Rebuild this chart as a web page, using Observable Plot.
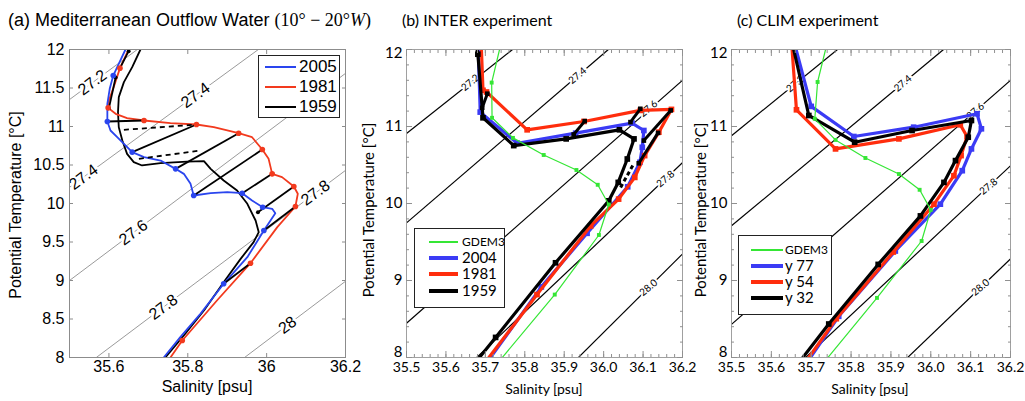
<!DOCTYPE html>
<html>
<head>
<meta charset="utf-8">
<script src="https://cdn.jsdelivr.net/npm/d3@7"></script>
<script src="https://cdn.jsdelivr.net/npm/@observablehq/plot@0.6"></script>
<style>
html,body{margin:0;padding:0;background:#fff;}
#wrap{position:relative;width:1025px;height:401px;overflow:hidden;background:#fff;}
#wrap svg{position:absolute;top:0;overflow:visible;}
.t{position:absolute;white-space:nowrap;color:#000;line-height:1;}
.helv{font-family:"Liberation Sans",Arial,Helvetica,sans-serif;}
.myr{font-family:Lato,"Open Sans",sans-serif;}
.math{font-family:"Liberation Serif","DejaVu Serif",serif;}
.rot{transform:translate(-50%,-50%) rotate(-90deg);}
.ctr{transform:translate(-50%,-50%);}
.leg{position:absolute;background:#fff;border:1px solid #222;box-sizing:border-box;}
.sw{position:absolute;}
.lt{position:absolute;transform:translateY(-50%);white-space:nowrap;line-height:0.9;}
</style>
</head>
<body>
<div id="wrap"></div>
<script>
// ---------- common ----------
const salDomain = [35.5, 36.2];
const tempDomain = [8, 12];

// ---------- panel (a) data ----------
const aXTicks = [35.6, 35.8, 36, 36.2];
const aYTicks = [8, 8.5, 9, 9.5, 10, 10.5, 11, 11.5, 12];
const aIsoStart = [[35.5, 11.35], [35.5, 10.21], [35.5, 9.0], [35.568, 8.0], [35.944, 8.0]];
const aIsoEnd = [[35.672, 12], [35.979, 12], [36.2, 11.69], [36.2, 10.43], [36.2, 8.99]];
const aIsoLabelText = ["27.2", "27.4", "27.4", "27.6", "27.8", "27.8", "28"];
const aIsoLabelPos = [[35.558, 11.571], [35.5355, 10.343], [35.8196, 11.404], [35.662, 9.623], [35.738, 8.654], [36.124, 10.138], [36.053, 8.42]];
const aSeriesNames = ["2005", "1981", "1959"];
const a2005 = [[35.642,12.0],[35.621,11.771],[35.611,11.662],[35.602,11.489],[35.596,11.294],[35.596,11.065],[35.604,10.948],[35.621,10.861],[35.659,10.667],[35.689,10.602],[35.731,10.558],[35.769,10.450],[35.790,10.385],[35.807,10.255],[35.815,10.104],[35.858,10.134],[35.900,10.147],[35.938,10.134],[35.963,10.039],[35.990,9.952],[36.014,9.931],[36.022,9.874],[35.993,9.649],[35.951,9.303],[35.891,8.957],[35.832,8.567],[35.781,8.264],[35.739,8.0]];
const a2005Dots = [[35.611,11.662],[35.596,11.065],[35.659,10.667],[35.769,10.45],[35.815,10.104],[35.938,10.134],[35.99,9.952],[35.993,9.649],[35.891,8.957]];
const a1981 = [[35.650,12.0],[35.628,11.758],[35.612,11.511],[35.600,11.338],[35.598,11.242],[35.617,11.165],[35.646,11.108],[35.689,11.078],[35.756,11.043],[35.822,11.026],[35.866,10.991],[35.929,10.913],[35.963,10.861],[35.989,10.701],[36.005,10.580],[36.014,10.385],[36.039,10.342],[36.069,10.221],[36.079,10.126],[36.073,9.961],[36.027,9.693],[35.959,9.225],[35.874,8.740],[35.786,8.221],[35.756,8.0]];
const a1981Dots = [[35.628,11.758],[35.598,11.242],[35.689,11.078],[35.822,11.026],[35.929,10.913],[35.989,10.701],[36.014,10.385],[36.069,10.221],[36.073,9.961],[35.959,9.225],[35.786,8.221]];
const a1959 = [[35.680,12.0],[35.659,11.771],[35.638,11.576],[35.625,11.381],[35.623,11.186],[35.625,10.991],[35.634,10.818],[35.646,10.645],[35.663,10.537],[35.684,10.494],[35.731,10.524],[35.798,10.545],[35.841,10.550],[35.858,10.450],[35.891,10.299],[35.925,10.169],[35.951,9.996],[35.972,9.779],[35.980,9.628],[35.967,9.498],[35.934,9.281],[35.891,8.978],[35.841,8.610],[35.790,8.286],[35.743,8.0]];
const aSegFrom = [[35.600,11.238],[35.628,11.758],[35.596,11.065],[35.659,10.667],[35.769,10.450],[35.815,10.104],[35.938,10.134],[35.978,9.887],[35.993,9.649],[35.891,8.957]];
const aSegTo = [[35.617,11.636],[35.650,11.978],[35.689,11.078],[35.822,11.026],[35.929,10.913],[35.989,10.701],[36.014,10.385],[36.069,10.221],[36.073,9.961],[35.959,9.225]];
const aDashFrom = [[35.638,10.957],[35.676,10.580]];
const aDashTo = [[35.815,11.022],[35.832,10.688]];

// ---------- panel (b) data ----------
const bcXTicks = [35.5, 35.6, 35.7, 35.8, 35.9, 36.0, 36.1, 36.2];
const bcYTicksMid = [9, 10, 11];
const bcYTickTop = [12];
const bcYTickBottom = [8];
const bIsoStart = [[35.5, 10.909], [35.5, 9.748], [35.5, 8.444], [35.678, 8.0], [35.936, 8.0]];
const bIsoEnd = [[35.769, 12], [36.012, 12], [36.2, 11.6], [36.2, 10.53], [36.2, 9.344]];
const bcIsoLabelText = ["27.2", "27.4", "27.6", "27.8", "28.0"];
const bIsoLabelPos = [[35.662, 11.57], [35.934, 11.66], [36.114, 11.23], [36.157, 10.32], [36.114, 8.906]];
const bSeriesNames = ["GDEM3", "2004", "1981", "1959"];
const bGdem3 = [[35.736,12.0],[35.716,11.57],[35.717,11.113],[35.770,10.852],[35.848,10.630],[35.931,10.435],[35.985,10.243],[36.013,9.987],[35.988,9.591],[35.876,8.817],[35.743,8.0]];
const b2004 = [[35.682,12.0],[35.687,11.187],[35.781,10.783],[35.929,10.913],[36.072,11.043],[36.102,10.948],[36.098,10.730],[36.092,10.535],[36.061,10.217],[35.958,9.613],[35.842,8.917],[35.713,8.0]];
const b1981 = [[35.690,12.0],[35.694,11.470],[35.703,11.448],[35.806,10.957],[35.950,11.065],[36.093,11.209],[36.172,11.222],[36.140,10.926],[36.104,10.622],[36.079,10.339],[36.038,10.057],[35.967,9.709],[35.831,8.817],[35.709,8.0]];
const b1959 = [[35.679,12.0],[35.681,11.939],[35.694,11.113],[35.772,10.752],[35.905,10.839],[36.040,10.957],[36.077,10.839],[36.060,10.578],[36.037,10.274],[36.013,10.035],[35.878,9.230],[35.726,8.261],[35.685,8.0]];
const bSegFrom = [[35.692,11.243],[35.924,10.896],[36.068,11.057],[36.102,10.817],[36.089,10.522]];
const bSegTo = [[35.705,11.426],[35.952,11.070],[36.093,11.230],[36.170,11.209],[36.138,10.917]];
const bDashFrom = [[36.043,10.209]];
const bDashTo = [[36.077,10.522]];

// ---------- panel (c) data ----------
const cIsoStart = [[35.5, 10.88], [35.5, 9.71], [35.5, 8.43], [35.686, 8.0], [35.942, 8.0]];
const cIsoEnd = [[35.766, 12], [36.032, 12], [36.2, 11.6], [36.2, 10.49], [36.2, 9.28]];
const cIsoLabelPos = [[35.66, 11.554], [35.93, 11.56], [36.112, 11.20], [36.145, 10.22], [36.125, 8.91]];
const cSeriesNames = ["GDEM3", "y 77", "y 54", "y 32"];
const cGdem3 = [[35.736,12.0],[35.716,11.578],[35.709,11.1],[35.761,10.826],[35.836,10.591],[35.920,10.383],[35.972,10.178],[36.0,9.917],[35.977,9.513],[35.865,8.774],[35.742,8.0]];
const cY77 = [[35.662,12.0],[35.700,11.261],[35.807,10.870],[35.957,10.991],[36.116,11.165],[36.127,10.970],[36.102,10.709],[36.079,10.426],[36.024,9.991],[35.911,9.383],[35.769,8.535],[35.698,8.0]];
const cY54 = [[35.652,12.0],[35.663,11.217],[35.761,10.709],[35.920,10.839],[36.074,11.022],[36.091,10.870],[36.076,10.622],[36.058,10.361],[36.008,9.991],[35.906,9.370],[35.763,8.504],[35.694,8.0]];
const cY32 = [[35.656,12.0],[35.694,11.143],[35.809,10.796],[35.953,10.948],[36.102,11.078],[36.094,10.861],[36.062,10.557],[36.033,10.274],[35.974,9.839],[35.868,9.209],[35.744,8.435],[35.679,8.0]];

// ---------- helpers ----------
const HELV = '"Liberation Sans", Arial, Helvetica, sans-serif';
const MYR = 'Lato, "Open Sans", sans-serif';
const BLUE_A = "#2a45ee", RED_A = "#f23a1e";
const BLUE = "#3b3bf5", RED = "#ff2d0d", GREEN = "#35e635";
const pts = arr => arr.map(([S, T]) => ({S, T}));
const links = (a, b) => a.map((p, i) => ({x1: p[0], y1: p[1], x2: b[i][0], y2: b[i][1]}));
const labels = (txt, pos) => txt.map((t, i) => ({t, S: pos[i][0], T: pos[i][1]}));
const linkOpts = {x1: "x1", y1: "y1", x2: "x2", y2: "y2"};
const inner = (arr) => arr.slice(1, -1);
const plain = d => String(d);

function tickAxes(xt, yt, len, color) {
  return [
    Plot.axisX(xt, {anchor: "bottom", tickSize: len, inset: len, fill: "none", stroke: color, label: null}),
    Plot.axisX(xt, {anchor: "top", tickSize: len, inset: len, fill: "none", stroke: color, label: null}),
    Plot.axisY(yt, {anchor: "left", tickSize: len, inset: len, fill: "none", stroke: color, label: null}),
    Plot.axisY(yt, {anchor: "right", tickSize: len, inset: len, fill: "none", stroke: color, label: null})
  ];
}

const wrap = document.getElementById("wrap");
function place(svg, left) { svg.style.left = left + "px"; wrap.appendChild(svg); }
function addText(html, cls, style) {
  const d = document.createElement("div");
  d.className = "t " + cls;
  d.innerHTML = html;
  Object.assign(d.style, style);
  wrap.appendChild(d);
}
function legend(box, rows) {
  const L = document.createElement("div");
  L.className = "leg";
  Object.assign(L.style, {left: box.left + "px", top: box.top + "px", width: box.w + "px", height: box.h + "px"});
  rows.forEach(r => {
    const s = document.createElement("div");
    s.className = "sw";
    Object.assign(s.style, {left: box.lx0 + "px", width: (box.lx1 - box.lx0) + "px", top: (r.y - r.lw / 2) + "px", height: r.lw + "px", background: r.color});
    L.appendChild(s);
    const t = document.createElement("div");
    t.className = "lt";
    t.textContent = r.label;
    Object.assign(t.style, {left: box.tx + "px", top: r.y + "px", fontSize: r.size + "px", fontFamily: box.font});
    L.appendChild(t);
  });
  wrap.appendChild(L);
}

// ---------- panel (a) ----------
const plotA = Plot.plot({
  width: 350, height: 401,
  marginLeft: 69, marginRight: 5, marginTop: 49, marginBottom: 44,
  x: {domain: salDomain}, y: {domain: tempDomain},
  style: {fontFamily: HELV, fontSize: "16px", background: "transparent", color: "#000", overflow: "visible"},
  marks: [
    Plot.link(links(aIsoStart, aIsoEnd), {...linkOpts, stroke: "#808080", strokeWidth: 0.8, clip: true}),
    Plot.text(labels(aIsoLabelText, aIsoLabelPos), {x: "S", y: "T", text: "t", rotate: -36.6, fontSize: 16, fill: "#000", stroke: "#fff", strokeWidth: 5, paintOrder: "stroke"}),
    Plot.line(pts(a1959), {x: "S", y: "T", stroke: "#000", strokeWidth: 1.8, clip: true}),
    Plot.line(pts(a1981), {x: "S", y: "T", stroke: RED_A, strokeWidth: 1.8, clip: true}),
    Plot.line(pts(a2005), {x: "S", y: "T", stroke: BLUE_A, strokeWidth: 1.8, clip: true}),
    Plot.link(links(aSegFrom, aSegTo), {...linkOpts, stroke: "#000", strokeWidth: 1.8}),
    Plot.link(links(aDashFrom, aDashTo), {...linkOpts, stroke: "#000", strokeWidth: 1.8, strokeDasharray: "5,4"}),
    Plot.dot(pts(aSegFrom.concat(aSegTo)), {x: "S", y: "T", r: 2, fill: "#000"}),
    Plot.dot(pts(a1981Dots), {x: "S", y: "T", r: 2.8, fill: RED_A}),
    Plot.dot(pts(a2005Dots), {x: "S", y: "T", r: 2.8, fill: BLUE_A}),
    Plot.frame({stroke: "#8c8c8c"}),
    ...tickAxes(aXTicks, aYTicks, 4, "#8c8c8c"),
    Plot.axisX(aXTicks, {anchor: "bottom", tickSize: 0, tickPadding: 3, fontSize: 16, tickFormat: plain, label: null}),
    Plot.axisY(aYTicks, {anchor: "left", tickSize: 0, tickPadding: 5, fontSize: 16, tickFormat: plain, label: null})
  ]
});
place(plotA, 0);

// ---------- panels (b), (c) ----------
const xMinor = d3.range(0, 36).map(i => +(35.5 + i * 0.02).toFixed(2));
const yMinor = d3.range(0, 21).map(i => +(8 + i * 0.2).toFixed(1));
const bcYTicks = bcYTickBottom.concat(bcYTicksMid, bcYTickTop);

function panelBC({width, ml, mr, isoStart, isoEnd, labelPos, thick, green, segFrom, segTo, dashFrom, dashTo}) {
  const marks = [
    Plot.link(links(isoStart, isoEnd), {...linkOpts, stroke: "#000", strokeWidth: 1.2, clip: true}),
    Plot.text(labels(bcIsoLabelText, labelPos), {x: "S", y: "T", text: "t", rotate: -40, fontSize: 10, fontFamily: MYR, fill: "#000", stroke: "#fff", strokeWidth: 4, paintOrder: "stroke"})
  ];
  thick.forEach(([arr, color]) => {
    marks.push(Plot.line(pts(arr), {x: "S", y: "T", stroke: color, strokeWidth: 3.2, strokeLinejoin: "miter", clip: true}));
    marks.push(Plot.dot(pts(inner(arr)), {x: "S", y: "T", symbol: "square", r: 3.2, fill: color}));
  });
  if (segFrom) {
    marks.push(Plot.link(links(segFrom, segTo), {...linkOpts, stroke: "#000", strokeWidth: 3}));
    marks.push(Plot.link(links(dashFrom, dashTo), {...linkOpts, stroke: "#000", strokeWidth: 3, strokeDasharray: "4,3"}));
    marks.push(Plot.dot(pts(segFrom.concat(segTo)), {x: "S", y: "T", symbol: "square", r: 2.6, fill: "#000"}));
  }
  marks.push(Plot.line(pts(green), {x: "S", y: "T", stroke: GREEN, strokeWidth: 1.2, clip: true}));
  marks.push(Plot.dot(pts(inner(green)), {x: "S", y: "T", symbol: "square", r: 2.2, fill: GREEN}));
  marks.push(Plot.frame({stroke: "#a0a0a0"}));
  marks.push(...tickAxes(xMinor, yMinor, 3, "#909090"));
  marks.push(...tickAxes(bcXTicks, bcYTicks, 6, "#909090"));
  marks.push(Plot.axisX(bcXTicks, {anchor: "bottom", tickSize: 0, tickPadding: 5, fontSize: 14, tickFormat: d3.format(".1f"), label: null}));
  marks.push(Plot.axisY(bcYTicksMid, {anchor: "left", tickSize: 0, tickPadding: 4, fontSize: 15, tickFormat: plain, label: null}));
  marks.push(Plot.axisY(bcYTickTop, {anchor: "left", tickSize: 0, tickPadding: 4, fontSize: 15, tickFormat: plain, dy: 4, label: null}));
  marks.push(Plot.axisY(bcYTickBottom, {anchor: "left", tickSize: 0, tickPadding: 4, fontSize: 15, tickFormat: plain, dy: -5, label: null}));
  return Plot.plot({
    width, height: 401,
    marginLeft: ml, marginRight: mr, marginTop: 49, marginBottom: 44,
    x: {domain: salDomain}, y: {domain: tempDomain},
    style: {fontFamily: MYR, fontSize: "14px", background: "transparent", color: "#000", overflow: "visible"},
    marks
  });
}

place(panelBC({width: 340, ml: 56, mr: 8, isoStart: bIsoStart, isoEnd: bIsoEnd, labelPos: bIsoLabelPos,
  thick: [[b2004, BLUE], [b1981, RED], [b1959, "#000"]], green: bGdem3,
  segFrom: bSegFrom, segTo: bSegTo, dashFrom: bDashFrom, dashTo: bDashTo}), 350);

place(panelBC({width: 335, ml: 41, mr: 15, isoStart: cIsoStart, isoEnd: cIsoEnd, labelPos: cIsoLabelPos,
  thick: [[cY77, BLUE], [cY54, RED], [cY32, "#000"]], green: cGdem3}), 690);

// ---------- titles and axis titles ----------
addText('(a) Mediterranean Outflow Water <span class="math">(10° − 20°<i>W</i>)</span>', "helv", {left: "8px", top: "11px", fontSize: "18px"});
addText('(b) INTER experiment', "myr", {left: "402px", top: "12px", fontSize: "16px"});
addText('(c) CLIM experiment', "myr", {left: "737px", top: "12px", fontSize: "16px"});
addText('Salinity [psu]', "helv ctr", {left: "207px", top: "387px", fontSize: "16px"});
addText('Potential Temperature [°C]', "helv rot", {left: "16px", top: "205px", fontSize: "16px"});
addText('Salinity [psu]', "myr ctr", {left: "544px", top: "389px", fontSize: "14px"});
addText('Potential Temperature [°C]', "myr rot", {left: "368px", top: "210px", fontSize: "15px"});
addText('Salinity [psu]', "myr ctr", {left: "870px", top: "389px", fontSize: "14px"});
addText('Potential Temperature [°C]', "myr rot", {left: "700px", top: "210px", fontSize: "15px"});

// ---------- legends ----------
legend({left: 258, top: 55, w: 82, h: 63, lx0: 6, lx1: 37, tx: 40, font: HELV}, [
  {label: aSeriesNames[0], color: BLUE_A, lw: 2, y: 11, size: 17},
  {label: aSeriesNames[1], color: RED_A, lw: 2, y: 31, size: 17},
  {label: aSeriesNames[2], color: "#000", lw: 2, y: 51, size: 17}
]);
legend({left: 414, top: 228, w: 91, h: 80, lx0: 14, lx1: 43, tx: 47, font: MYR}, [
  {label: bSeriesNames[0], color: GREEN, lw: 1.5, y: 13, size: 12},
  {label: bSeriesNames[1], color: BLUE, lw: 4, y: 29, size: 15},
  {label: bSeriesNames[2], color: RED, lw: 4, y: 45, size: 15},
  {label: bSeriesNames[3], color: "#000", lw: 4, y: 62, size: 15}
]);
legend({left: 738, top: 235, w: 94, h: 80, lx0: 12, lx1: 44, tx: 46, font: MYR}, [
  {label: cSeriesNames[0], color: GREEN, lw: 1.5, y: 14, size: 12},
  {label: cSeriesNames[1], color: BLUE, lw: 4, y: 30, size: 15},
  {label: cSeriesNames[2], color: RED, lw: 4, y: 46, size: 15},
  {label: cSeriesNames[3], color: "#000", lw: 4, y: 62, size: 15}
]);
</script>
</body>
</html>
